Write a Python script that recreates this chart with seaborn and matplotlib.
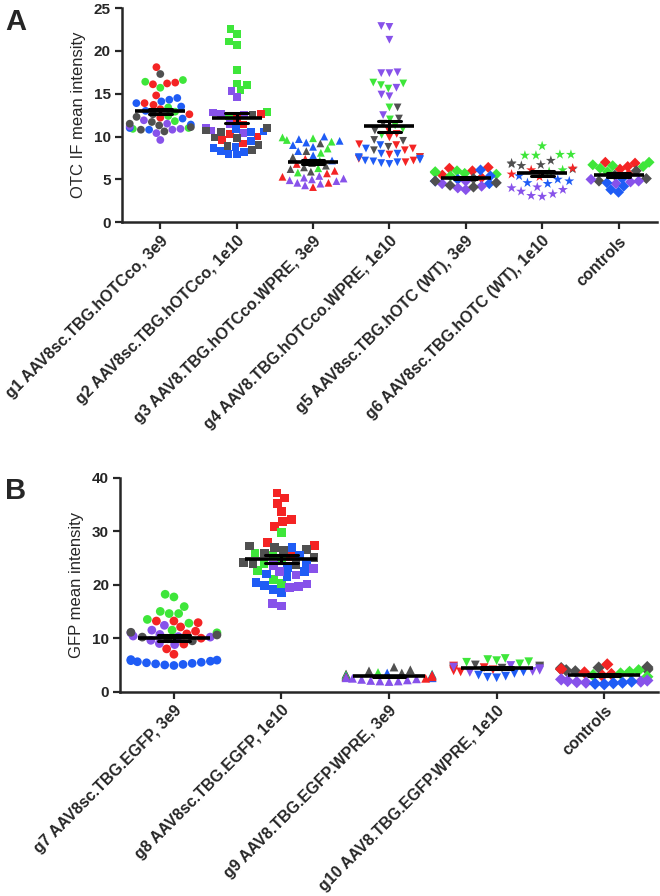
import pandas as pd
import seaborn as sns
import matplotlib as mpl
mpl.use("Agg")
from matplotlib import pyplot as plt

# ---- panel A: OTC IF mean intensity, one dict per group, one list per animal colour
g1 = {'red': [18.1, 16.3, 16.2, 16.1, 14.8, 13.9, 13.7, 13.2, 12.6, 12.2],
      'green': [16.6, 16.4, 15.7, 13.4, 12.9, 12.4, 11.8, 11.0, 10.9],
      'blue': [14.5, 14.3, 14.1, 13.9, 13.5, 13.0, 12.1, 11.4, 11.0, 10.8],
      'purple': [11.9, 11.5, 11.2, 10.9, 10.8, 10.4, 9.6],
      'gray': [17.3, 12.6, 12.3, 11.7, 11.5, 11.3, 11.1, 10.8, 10.6]}
g2 = {'green': [22.6, 22.0, 21.1, 20.7, 17.8, 16.2, 16.0, 15.4, 12.9, 12.4],
      'purple': [15.3, 14.6, 12.8, 12.6, 12.5, 11.5, 11.0, 10.7, 10.4],
      'red': [12.6, 12.2, 11.4, 10.3, 10.0, 9.6, 9.2],
      'blue': [10.9, 10.6, 10.5, 9.5, 8.8, 8.7, 8.3, 8.2, 8.0, 7.9],
      'gray': [12.5, 11.0, 10.7, 10.5, 9.9, 9.8, 9.0, 8.9, 8.4]}
g3 = {'blue': [10.0, 9.7, 9.5, 9.3, 9.0, 8.8, 8.3, 7.8, 7.2],
      'green': [9.9, 9.8, 9.6, 9.4, 8.6, 8.1, 7.2, 6.3, 5.8],
      'gray': [9.2, 8.3, 7.6, 6.9, 6.6, 6.4, 6.2, 5.9],
      'red': [7.4, 6.8, 6.0, 5.7, 5.3, 4.6, 4.1],
      'purple': [5.4, 5.2, 5.1, 5.0, 4.9, 4.8, 4.6, 4.5, 4.3]}
g4 = {'purple': [22.9, 22.8, 21.3, 17.5, 17.4, 17.4, 15.7, 14.9, 14.7, 12.5],
      'green': [16.3, 16.2, 16.0, 15.6, 13.4, 12.0, 11.3, 10.9, 10.2],
      'gray': [13.4, 12.1, 11.5, 10.7, 9.6, 9.5, 8.8, 8.4, 7.6],
      'red': [10.8, 10.3, 9.9, 9.1, 9.0, 8.6, 8.4, 7.9, 7.6, 7.4, 7.2, 7.0],
      'blue': [9.0, 8.6, 8.0, 8.0, 7.6, 7.5, 7.4, 7.3, 7.2, 7.1, 7.0, 6.9, 6.8]}
g5 = {'red': [6.4, 6.3, 6.0, 5.5, 5.2],
      'green': [6.0, 5.9, 5.8, 5.7, 5.6, 5.4],
      'blue': [6.1, 5.4, 5.0, 4.8, 4.5],
      'purple': [4.8, 4.5, 4.2, 4.0, 3.8],
      'gray': [5.1, 4.8, 4.6, 4.3, 4.1]}
g6 = {'green': [8.9, 7.9, 7.9, 7.8, 7.8, 6.1, 5.9],
      'gray': [7.2, 6.9, 6.8, 6.7, 6.6, 6.2],
      'red': [6.3, 6.1, 5.6, 5.3],
      'blue': [5.4, 5.0, 4.8, 4.6, 4.5],
      'purple': [4.1, 4.0, 3.8, 3.6, 3.3, 3.1, 3.0]}
ctl_a = {'red': [7.0, 6.9, 6.5, 6.2, 5.6],
         'green': [7.0, 6.7, 6.6, 6.5, 6.3, 5.9],
         'gray': [6.0, 5.5, 5.1, 4.8],
         'purple': [5.0, 4.8, 4.7, 4.5],
         'blue': [5.1, 4.6, 4.2, 3.8, 3.5]}
names_a = ['g1 AAV8sc.TBG.hOTCco, 3e9', 'g2 AAV8sc.TBG.hOTCco, 1e10',
           'g3 AAV8.TBG.hOTCco.WPRE, 3e9', 'g4 AAV8.TBG.hOTCco.WPRE, 1e10',
           'g5 AAV8sc.TBG.hOTC (WT), 3e9', 'g6 AAV8sc.TBG.hOTC (WT), 1e10',
           'controls']
markers_a = ['o', 's', '^', 'v', 'D', '*', 'D']

# ---- panel B: GFP mean intensity
g7 = {'green': [18.2, 17.7, 15.9, 15.0, 14.6, 14.6, 13.5, 12.8, 11.5, 11.0],
      'red': [13.2, 13.2, 12.9, 12.1, 11.3, 10.8, 10.0, 8.9, 8.0, 7.0],
      'purple': [12.4, 11.5, 11.0, 10.7, 10.4, 10.3, 10.2, 9.6, 9.0, 8.8],
      'gray': [11.1, 10.6, 10.2, 9.9, 9.5],
      'blue': [6.0, 5.9, 5.8, 5.7, 5.6, 5.5, 5.4, 5.3, 5.2, 5.1, 5.0, 4.9]}
g8 = {'red': [37.1, 36.2, 35.1, 33.6, 32.1, 31.8, 30.9, 27.9, 27.3, 25.2],
      'green': [29.8, 25.9, 25.4, 24.8, 23.9, 22.6, 21.0, 20.2],
      'gray': [27.2, 27.0, 26.6, 26.4, 25.9, 25.0, 24.2, 24.0, 23.8],
      'blue': [26.9, 25.5, 24.1, 23.2, 22.5, 22.0, 21.5, 20.4, 19.8, 19.1, 18.5],
      'purple': [23.6, 23.0, 22.4, 21.8, 20.1, 19.6, 19.4, 16.5, 16.0]}
g9 = {'gray': [4.6, 4.1, 3.9, 3.5, 3.3, 3.2, 3.0],
      'green': [3.6, 3.3, 3.1, 3.0, 2.9, 2.8],
      'blue': [3.5, 3.2, 3.0, 2.9, 2.7, 2.6],
      'red': [3.1, 2.9, 2.8, 2.7, 2.5],
      'purple': [2.6, 2.5, 2.4, 2.3, 2.2, 2.1, 2.0, 2.0, 1.9]}
g10 = {'green': [6.2, 6.0, 5.8, 5.6, 5.5, 5.2, 4.6],
       'gray': [5.0, 4.8, 4.6, 4.4, 4.3, 4.2],
       'red': [4.8, 4.5, 4.3, 4.1, 3.9, 3.7],
       'purple': [4.9, 4.6, 4.3, 4.0, 3.8, 3.6],
       'blue': [3.7, 3.4, 3.1, 2.9, 2.7, 2.6]}
ctl_b = {'gray': [4.6, 4.5, 4.4, 4.3, 4.2, 4.1, 4.0, 3.8],
         'red': [5.1, 4.2, 3.6, 3.3, 3.0],
         'green': [4.0, 3.7, 3.4, 3.1, 2.8],
         'purple': [2.3, 2.1, 2.0, 1.9, 1.8, 1.7],
         'blue': [1.9, 1.7, 1.6, 1.5, 1.4]}
names_b = ['g7 AAV8sc.TBG.EGFP, 3e9', 'g8 AAV8sc.TBG.EGFP, 1e10',
           'g9 AAV8.TBG.EGFP.WPRE, 3e9', 'g10 AAV8.TBG.EGFP.WPRE, 1e10',
           'controls']
markers_b = ['o', 's', '^', 'v', 'D']

animals = ['red', 'green', 'blue', 'purple', 'gray']
palette = {'red': '#f42424', 'green': '#3ee63a', 'blue': '#1f5cf5',
           'purple': '#8752ea', 'gray': '#505050'}

sns.set_style('ticks')
plt.rcParams['font.family'] = ['Liberation Sans', 'DejaVu Sans']


def build(groups, names):
    rows = []
    for name, grp in zip(names, groups):
        for animal, vals in grp.items():
            for v in vals:
                rows.append((name, animal, v))
    return pd.DataFrame(rows, columns=['group', 'animal', 'value'])


def draw_panel(ax, groups, names, markers, ymax, step, ylabel, mean_size, msize):
    df = build(groups, names)
    for name, mk in zip(names, markers):
        sub = df[df.group == name]
        size = msize * 1.35 if mk == '*' else msize
        sns.swarmplot(data=sub, x='group', y='value', hue='animal',
                      order=names, hue_order=animals, palette=palette,
                      marker=mk, size=size, linewidth=0, legend=False,
                      ax=ax, zorder=2, warn_thresh=1)
    sns.pointplot(data=df, x='group', y='value', order=names,
                  errorbar='se', capsize=0.3, color='black', marker='_',
                  markersize=mean_size, markeredgewidth=2.6,
                  linestyle='none', err_kws={'linewidth': 2.2, 'zorder': 6},
                  ax=ax, zorder=6)
    ax.set_xlim(-0.5, len(names) - 0.5)
    ax.set_ylim(0, ymax)
    ax.set_yticks(range(0, ymax + 1, step))
    ax.set_yticklabels([str(t) for t in range(0, ymax + 1, step)],
                       fontsize=11, fontweight='bold')
    ax.set_xticks(range(len(names)))
    ax.set_xticklabels(names, rotation=45, ha='right',
                       rotation_mode='anchor', fontsize=11.5,
                       fontweight='bold')
    ax.set_xlabel('')
    ax.set_ylabel(ylabel, fontsize=12, labelpad=6)
    sns.despine(ax=ax)
    for s in ['left', 'bottom']:
        ax.spines[s].set_linewidth(1.8)
    ax.tick_params(width=1.6, length=5, pad=3)


fig = plt.figure(figsize=(6.6, 8.96), dpi=100)
ax_a = fig.add_axes([0.185, 0.752, 0.81, 0.239])
ax_b = fig.add_axes([0.182, 0.228, 0.815, 0.239])

draw_panel(ax_a, [g1, g2, g3, g4, g5, g6, ctl_a], names_a, markers_a,
           25, 5, 'OTC IF mean intensity', 36, 5.6)
draw_panel(ax_b, [g7, g8, g9, g10, ctl_b], names_b, markers_b,
           40, 10, 'GFP mean intensity', 52, 6.3)

fig.text(0.008, 0.975, 'A', fontsize=21, fontweight='bold', va='center')
fig.text(0.008, 0.452, 'B', fontsize=21, fontweight='bold', va='center')

fig.savefig('out.png', dpi=100)
